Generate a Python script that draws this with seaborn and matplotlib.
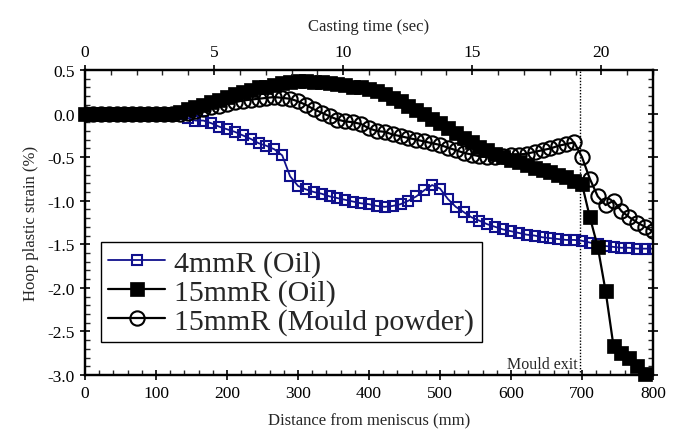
import numpy as np
import pandas as pd
import matplotlib
matplotlib.use("Agg")
import matplotlib.pyplot as plt
from matplotlib.ticker import MultipleLocator, FormatStrFormatter
import seaborn as sns

# Sampling positions along the strand (mm from meniscus)
distance_mm = np.round(np.linspace(0, 800, 73), 1)

# Hoop plastic strain (%) for each casting condition
strain_4mmR_oil = [
    0.0, 0.0, 0.0, 0.0, 0.0, 0.0, 0.0, 0.0, 0.0, 0.0, 0.0, 0.0,
    -0.01, -0.05, -0.08, -0.08, -0.11, -0.15, -0.18, -0.21, -0.25, -0.29,
    -0.34, -0.37, -0.41, -0.48, -0.72, -0.83, -0.87, -0.90, -0.92, -0.95,
    -0.97, -0.99, -1.01, -1.03, -1.04, -1.06, -1.07, -1.06, -1.04, -1.00,
    -0.95, -0.88, -0.82, -0.86, -0.98, -1.07, -1.13, -1.19, -1.23, -1.27,
    -1.30, -1.33, -1.35, -1.37, -1.39, -1.40, -1.42, -1.43, -1.44, -1.45,
    -1.45, -1.46, -1.48, -1.50, -1.52, -1.53, -1.54, -1.54, -1.55, -1.55,
    -1.55,
]
strain_15mmR_oil = [
    0.0, 0.0, 0.0, 0.0, 0.0, 0.0, 0.0, 0.0, 0.0, 0.0, 0.0, 0.0,
    0.02, 0.05, 0.08, 0.10, 0.13, 0.16, 0.19, 0.22, 0.25, 0.27,
    0.30, 0.31, 0.33, 0.35, 0.36, 0.37, 0.37, 0.36, 0.36, 0.35,
    0.34, 0.33, 0.31, 0.30, 0.28, 0.26, 0.22, 0.18, 0.14, 0.09,
    0.04, -0.01, -0.06, -0.11, -0.17, -0.22, -0.28, -0.33, -0.38, -0.42,
    -0.46, -0.50, -0.53, -0.56, -0.59, -0.62, -0.65, -0.67, -0.70, -0.73,
    -0.77, -0.81, -1.19, -1.53, -2.04, -2.67, -2.75, -2.80, -2.90, -2.99,
    np.nan,
]
strain_15mmR_powder = [
    0.0, 0.0, 0.0, 0.0, 0.0, 0.0, 0.0, 0.0, 0.0, 0.0, 0.0, 0.0, 0.0,
    0.01, 0.03, 0.05, 0.07, 0.09, 0.11, 0.13, 0.15, 0.16,
    0.17, 0.18, 0.19, 0.18, 0.17, 0.14, 0.10, 0.05, 0.01, -0.03,
    -0.07, -0.09, -0.10, -0.12, -0.17, -0.20, -0.21, -0.24, -0.26, -0.28,
    -0.30, -0.32, -0.34, -0.36, -0.39, -0.42, -0.45, -0.47, -0.49, -0.50,
    -0.50, -0.49, -0.48, -0.47, -0.46, -0.44, -0.42, -0.40, -0.37, -0.35,
    -0.33, -0.50, -0.75, -0.95, -1.05, -1.00, -1.12, -1.19, -1.25, -1.30,
    -1.35,
]

series_labels = ["4mmR (Oil)", "15mmR (Oil)", "15mmR (Mould powder)"]
mould_exit_mm = 697
total_time_s = 22.0  # casting time corresponding to 800 mm

sns.set_theme(style="white")
plt.rcParams["font.family"] = ["Liberation Serif", "DejaVu Serif"]
plt.rcParams["axes.unicode_minus"] = False

fig = plt.figure(figsize=(6.78, 4.39), dpi=100)
ax = fig.add_axes([85 / 678, 1 - 376 / 439, 568 / 678, 305 / 439])

navy = "#10108c"
sns.lineplot(x=distance_mm, y=strain_4mmR_oil, ax=ax, color=navy, lw=1.3,
             marker="s", markersize=7.4, markerfacecolor="none",
             markeredgecolor=navy, markeredgewidth=1.5,
             label=series_labels[0], sort=False)
sns.lineplot(x=distance_mm, y=strain_15mmR_oil, ax=ax, color="black", lw=1.6,
             marker="s", markersize=9.8, markerfacecolor="black",
             markeredgecolor="black", markeredgewidth=0.5,
             label=series_labels[1], sort=False, clip_on=False)
sns.lineplot(x=distance_mm, y=strain_15mmR_powder, ax=ax, color="black", lw=1.6,
             marker="o", markersize=10.3, markerfacecolor="none",
             markeredgecolor="black", markeredgewidth=1.5,
             label=series_labels[2], sort=False)

ax.axvline(mould_exit_mm, color="black", lw=1.0, linestyle=(0, (1, 1.2)), zorder=1)
ax.text(mould_exit_mm - 3, -2.87, "Mould exit", ha="right", va="center", fontsize=11.5)

ax.set_xlim(0, 800)
ax.set_ylim(-3.0, 0.5)
ax.xaxis.set_major_locator(MultipleLocator(100))
ax.xaxis.set_minor_locator(MultipleLocator(20))
ax.yaxis.set_major_locator(MultipleLocator(0.5))
ax.yaxis.set_minor_locator(MultipleLocator(0.1))
ax.yaxis.set_major_formatter(FormatStrFormatter("%.1f"))

ax.tick_params(which="major", direction="inout", length=7, width=1.2,
               labelsize=12.5, pad=4, colors="black",
               bottom=True, left=True, right=True, top=False)
ax.tick_params(which="minor", direction="in", length=3.5, width=1.0,
               bottom=True, left=True, right=True, top=False)

for side in ["left", "right", "top", "bottom"]:
    ax.spines[side].set_color("black")
    ax.spines[side].set_linewidth(1.6)

ax.set_xlabel("Distance from meniscus (mm)", fontsize=12, labelpad=8)
ax.set_ylabel("Hoop plastic strain (%)", fontsize=12, labelpad=6)

# Casting-time scale along the top edge
top = ax.twiny()
top.set_xlim(0, total_time_s)
top.xaxis.set_major_locator(MultipleLocator(5))
top.xaxis.set_minor_locator(MultipleLocator(1))
top.tick_params(which="major", direction="inout", length=7, width=1.2,
                labelsize=12.5, pad=4, colors="black",
                top=True, bottom=False, left=False, right=False)
top.tick_params(which="minor", direction="in", length=3.5, width=1.0,
                top=True, bottom=False)
top.yaxis.set_visible(False)
for side in ["left", "right", "top", "bottom"]:
    top.spines[side].set_color("black")
    top.spines[side].set_linewidth(1.6)
top.set_xlabel("Casting time (sec)", fontsize=12, labelpad=10)

leg = ax.legend(loc="upper left", bbox_to_anchor=(16 / 568, 133 / 305),
                borderaxespad=0, fontsize=21.5, frameon=True, fancybox=False,
                edgecolor="black", framealpha=1, handlelength=1.9,
                handletextpad=0.3, labelspacing=0.06, borderpad=0.25)
leg.get_frame().set_linewidth(1.0)

fig.savefig("out.png", dpi=100)
